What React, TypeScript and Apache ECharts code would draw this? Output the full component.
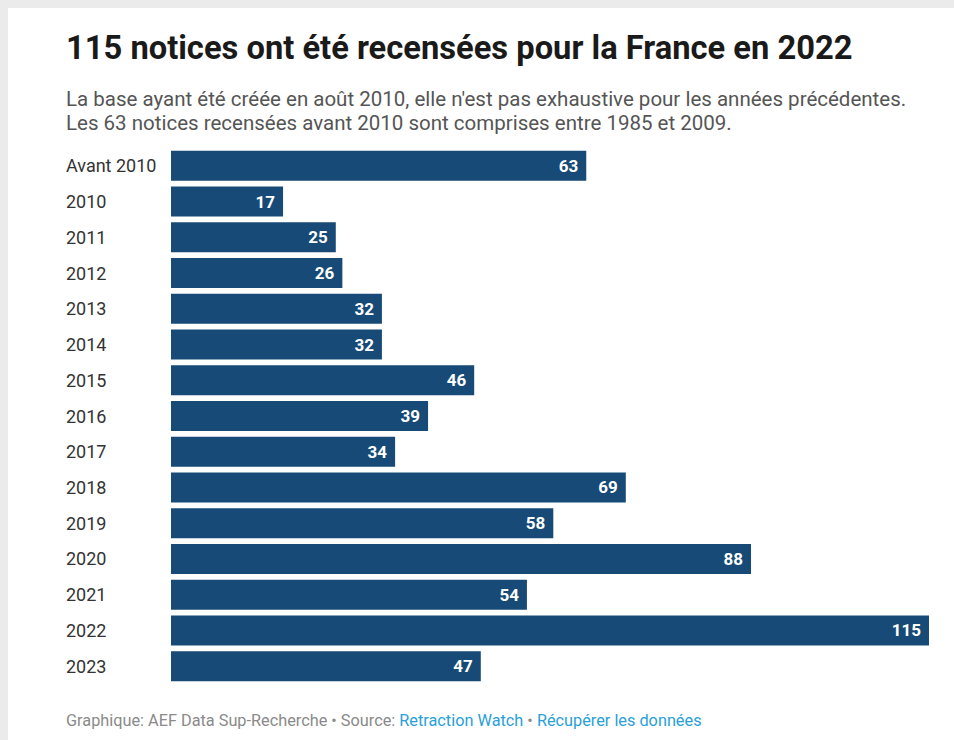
import React, { useEffect, useRef } from "react";
import * as echarts from "echarts";

const categories = ["Avant 2010", "2010", "2011", "2012", "2013", "2014", "2015", "2016", "2017", "2018", "2019", "2020", "2021", "2022", "2023"];
const values = [63, 17, 25, 26, 32, 32, 46, 39, 34, 69, 58, 88, 54, 115, 47];

const titleText = "115 notices ont été recensées pour la France en 2022";
const subtitleText = "La base ayant été créée en août 2010, elle n'est pas exhaustive pour les années précédentes.\nLes 63 notices recensées avant 2010 sont comprises entre 1985 et 2009.";

export default function App() {
  const ref = useRef<HTMLDivElement>(null);
  useEffect(() => {
    if (!ref.current) return;
    const chart = echarts.init(ref.current, null, { renderer: "svg" });
    const font = "Roboto, 'Noto Sans', sans-serif";
    chart.setOption({
      animation: false,
      backgroundColor: "#ebebeb",
      textStyle: { fontFamily: font },
      graphic: [
        { type: "rect", left: 8, top: 8, shape: { width: 946, height: 732 }, style: { fill: "#ffffff" }, z: -10 },
        {
          type: "text", x: 66, y: 48,
          style: { text: titleText, font: `bold 32.7px ${font}`, fill: "#1a1a1a", verticalAlign: "middle" },
        },
        {
          type: "text", x: 66, y: 111,
          style: { text: subtitleText, font: `20.5px ${font}`, fill: "#555555", lineHeight: 24, verticalAlign: "middle" },
        },
        {
          type: "text", x: 66, y: 720,
          style: {
            text: "{g|Graphique: AEF Data Sup-Recherche • Source: }{b|Retraction Watch}{g| • }{b|Récupérer les données}",
            font: `16.3px ${font}`,
            verticalAlign: "middle",
            rich: {
              g: { fill: "#8a8a8a", fontSize: 16.3, fontFamily: font },
              b: { fill: "#2a9fd8", fontSize: 16.3, fontFamily: font },
            },
          },
        },
      ],
      grid: { left: 171, right: 25, top: 148, bottom: 56, containLabel: false },
      xAxis: { type: "value", min: 0, max: 115, show: false },
      yAxis: {
        type: "category",
        data: categories,
        inverse: true,
        axisLine: { show: false },
        axisTick: { show: false },
        axisLabel: { align: "left", margin: 105, color: "#333333", fontSize: 18, fontFamily: font },
      },
      series: [
        {
          type: "bar",
          data: values,
          barWidth: 30,
          itemStyle: { color: "#174a76" },
          label: {
            show: true,
            position: "insideRight",
            distance: 8,
            color: "#ffffff",
            fontWeight: "bold",
            fontSize: 17,
            fontFamily: font,
          },
        },
      ],
    });
    return () => chart.dispose();
  }, []);
  return <div ref={ref} style={{ position: "fixed", left: 0, top: 0, width: 954, height: 740 }} />;
}
